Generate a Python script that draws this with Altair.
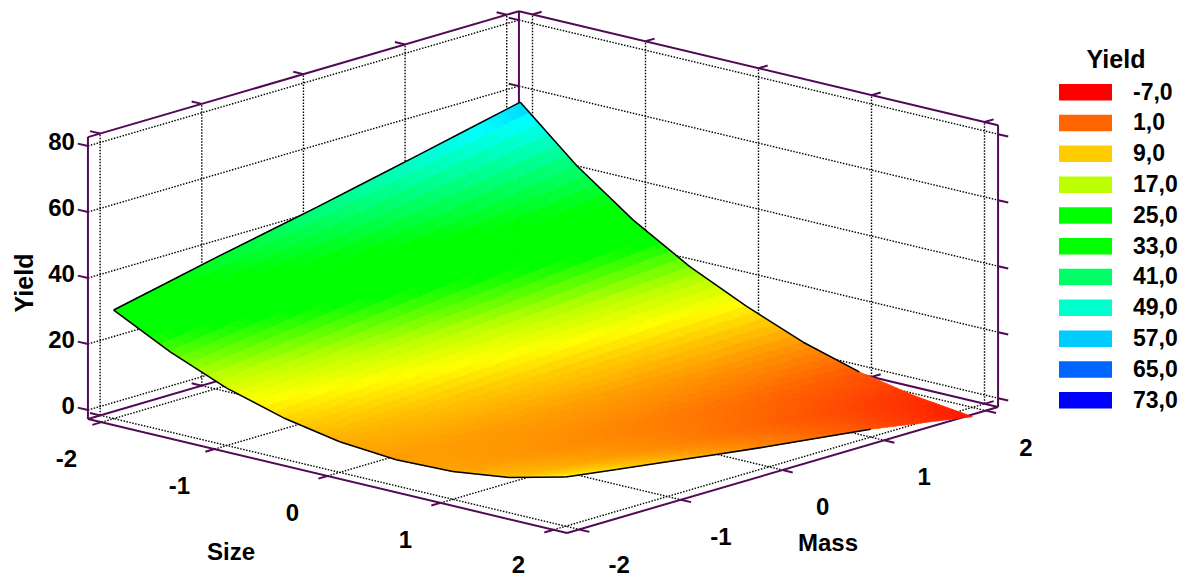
import altair as alt

# Yield at Size (rows) / Mass (columns) = -2, -1.5, ... 2
S_GRID = [-2, -1.5, -1, -0.5, 0, 0.5, 1, 1.5, 2]
M_GRID = [-2, -1.5, -1, -0.5, 0, 0.5, 1, 1.5, 2]
Y_S_M2 = [30.2, 33.6, 37.0, 40.2, 43.4, 46.8, 50.2, 53.7, 57.2]
Y_S_M15 = [21.6, 24.2, 26.7, 29.3, 31.8, 34.4, 36.9, 39.5, 42.0]
Y_S_M1 = [14.7, 16.6, 18.4, 20.3, 22.2, 24.0, 25.9, 27.7, 29.6]
Y_S_M05 = [9.8, 11.0, 12.3, 13.5, 14.7, 15.9, 17.2, 18.4, 19.6]
Y_S_0 = [6.6, 7.2, 7.9, 8.5, 9.2, 9.8, 10.4, 11.1, 11.7]
Y_S_P05 = [5.2, 5.2, 5.1, 5.1, 5.1, 5.0, 5.0, 4.9, 4.9]
Y_S_P1 = [5.7, 5.0, 4.2, 3.5, 2.8, 2.1, 1.3, 0.6, -0.1]
Y_S_P15 = [8.0, 6.6, 5.2, 3.7, 2.3, 0.9, -0.6, -2.0, -3.4]
Y_S_P2 = [12.2, 10.0, 7.8, 5.6, 3.5, 1.6, -0.3, -2.9, -5.5]
YIELD = [Y_S_M2, Y_S_M15, Y_S_M1, Y_S_M05, Y_S_0, Y_S_P05, Y_S_P1, Y_S_P15, Y_S_P2]

LEVELS = [-7, 1, 9, 17, 25, 33, 41, 49, 57, 65, 73]
LEVEL_LABELS = ["-7,0", "1,0", "9,0", "17,0", "25,0", "33,0", "41,0", "49,0", "57,0", "65,0", "73,0"]
COLORS = ["#ff0000", "#ff6600", "#ffcc00", "#bbff00", "#00ff00", "#00ff00",
          "#00ff66", "#00ffcc", "#00ccff", "#0066ff", "#0000ff"]
S_TICKS = [-2, -1, 0, 1, 2]
M_TICKS = [-2, -1, 0, 1, 2]
Z_TICKS = [0, 20, 40, 60, 80]
PURPLE = "#520a56"
FONT = "Liberation Sans"
BOX = 2.12
ZMIN, ZMAX = -2.7, 82.7
LABEL_FLOOR = 565.5


# Fixed oblique view of the 3-D box
def P(s, m, z):
    return (543 + 113 * s + 101.65 * m, 413 + 26.9 * s - 29.7 * m - 3.3 * (z - ZMIN))


xs = alt.Scale(domain=[8, 1178], nice=False, zero=False)
ys = alt.Scale(domain=[569, 8], nice=False, zero=False)
X = alt.X("x:Q", scale=xs, axis=None)
Y = alt.Y("y:Q", scale=ys, axis=None)


def seg(a, b):
    return {"x": a[0], "y": a[1], "x2": b[0], "y2": b[1]}


def rules(rows, color, width, dash=None):
    kw = {"color": color, "strokeWidth": width}
    if dash:
        kw["strokeDash"] = dash
    return alt.Chart(alt.Data(values=rows)).mark_rule(**kw).encode(X, Y, x2="x2:Q", y2="y2:Q")


# dotted grid on the two back walls and on the floor
grid = []
for m in M_TICKS:
    grid.append(seg(P(-BOX, m, ZMIN), P(-BOX, m, ZMAX)))
    grid.append(seg(P(-BOX, m, ZMIN), P(BOX, m, ZMIN)))
for s in S_TICKS:
    grid.append(seg(P(s, BOX, ZMIN), P(s, BOX, ZMAX)))
    grid.append(seg(P(s, -BOX, ZMIN), P(s, BOX, ZMIN)))
for z in Z_TICKS:
    grid.append(seg(P(-BOX, -BOX, z), P(-BOX, BOX, z)))
    grid.append(seg(P(-BOX, BOX, z), P(BOX, BOX, z)))

# purple frame and ticks
box = [
    seg(P(-BOX, -BOX, ZMIN), P(-BOX, -BOX, ZMAX)),
    seg(P(BOX, BOX, ZMIN), P(BOX, BOX, ZMAX)),
    seg(P(-BOX, BOX, ZMIN), P(-BOX, BOX, ZMAX)),
    seg(P(-BOX, -BOX, ZMAX), P(-BOX, BOX, ZMAX)),
    seg(P(-BOX, BOX, ZMAX), P(BOX, BOX, ZMAX)),
    seg(P(-BOX, -BOX, ZMIN), P(BOX, -BOX, ZMIN)),
    seg(P(BOX, -BOX, ZMIN), P(BOX, BOX, ZMIN)),
    seg(P(-BOX, -BOX, ZMIN), P(-BOX, BOX, ZMIN)),
    seg(P(-BOX, BOX, ZMIN), P(BOX, BOX, ZMIN)),
]
TL = 0.09
for s in S_TICKS:
    box.append(seg(P(s, -BOX, ZMIN), P(s, -BOX - TL, ZMIN)))
    box.append(seg(P(s, BOX, ZMIN), P(s, BOX + TL, ZMIN)))
    box.append(seg(P(s, BOX, ZMAX), P(s, BOX + TL, ZMAX)))
for m in M_TICKS:
    box.append(seg(P(BOX, m, ZMIN), P(BOX + TL, m, ZMIN)))
    box.append(seg(P(-BOX, m, ZMIN), P(-BOX - TL, m, ZMIN)))
    box.append(seg(P(-BOX, m, ZMAX), P(-BOX - TL, m, ZMAX)))
for z in Z_TICKS:
    box.append(seg(P(-BOX, -BOX, z), P(-BOX - TL, -BOX, z)))
    box.append(seg(P(-BOX, BOX, z), P(-BOX - TL, BOX, z)))
    box.append(seg(P(BOX, BOX, z), P(BOX + TL, BOX, z)))

# surface: each read cell is drawn as small flat shading facets
SUB = 6
features = []


def lerp_cell(i, j, u, v):
    a, b = YIELD[i][j], YIELD[i][j + 1]
    c, d = YIELD[i + 1][j], YIELD[i + 1][j + 1]
    return a * (1 - u) * (1 - v) + b * (1 - u) * v + c * u * (1 - v) + d * u * v


for i in range(len(S_GRID) - 1):
    ds = S_GRID[i + 1] - S_GRID[i]
    for j in range(len(M_GRID) - 1):
        dm = M_GRID[j + 1] - M_GRID[j]
        for a in range(SUB):
            for b in range(SUB):
                corners = [(a, b), (a + 1, b), (a + 1, b + 1), (a, b + 1)]
                pts, zs = [], []
                for ca, cb in corners:
                    u, v = ca / SUB, cb / SUB
                    z = lerp_cell(i, j, u, v)
                    zs.append(z)
                    pts.append(list(P(S_GRID[i] + u * ds, M_GRID[j] + v * dm, z)))
                pts.append(pts[0])
                features.append({
                    "type": "Feature",
                    "properties": {"z": sum(zs) / 4},
                    "geometry": {"type": "Polygon", "coordinates": [pts]},
                })

cscale = alt.Scale(domain=LEVELS, range=COLORS, interpolate="hsl")
surface = (
    alt.Chart(alt.Data(values=features))
    .mark_geoshape(strokeWidth=0.8)
    .encode(
        fill=alt.Fill("properties.z:Q", scale=cscale, legend=None),
        stroke=alt.Stroke("properties.z:Q", scale=cscale, legend=None),
    )
    .project(type="identity", scale=1, translate=[-8, -8])
)

# black outline, absent towards the red tip as in the reference
outline = []
n = len(S_GRID)
for k in range(n - 1):
    outline.append(seg(P(S_GRID[0], M_GRID[k], YIELD[0][k]), P(S_GRID[0], M_GRID[k + 1], YIELD[0][k + 1])))
    outline.append(seg(P(S_GRID[k], M_GRID[0], YIELD[k][0]), P(S_GRID[k + 1], M_GRID[0], YIELD[k + 1][0])))
for k in range(6):
    outline.append(seg(P(S_GRID[k], M_GRID[-1], YIELD[k][-1]), P(S_GRID[k + 1], M_GRID[-1], YIELD[k + 1][-1])))
    outline.append(seg(P(S_GRID[-1], M_GRID[k], YIELD[-1][k]), P(S_GRID[-1], M_GRID[k + 1], YIELD[-1][k + 1])))

# texts
texts = []
for z in Z_TICKS:
    p = P(-BOX, -BOX, z)
    texts.append({"x": p[0] - 13, "y": p[1] - 3, "t": str(z), "a": "right"})
for s in S_TICKS:
    p = P(s, -BOX, ZMIN)
    texts.append({"x": p[0] - 35, "y": min(p[1] + 38, LABEL_FLOOR), "t": str(s), "a": "center"})
for m in M_TICKS:
    p = P(BOX, m, ZMIN)
    texts.append({"x": p[0] + 40, "y": min(p[1] + 38, LABEL_FLOOR), "t": str(m), "a": "center"})
texts.append({"x": 231, "y": 553, "t": "Size", "a": "center"})
texts.append({"x": 828, "y": 544, "t": "Mass", "a": "center"})


def text_layer(rows, size=24, **kw):
    return alt.Chart(alt.Data(values=rows)).mark_text(
        font=FONT, fontWeight="bold", fontSize=size, color="black", baseline="middle", **kw
    ).encode(X, Y, text="t:N")


legend_rows = [{"x": 1133, "y": 92.5 + i * 30.8, "t": lab} for i, lab in enumerate(LEVEL_LABELS)]
text_layers = [text_layer([r for r in texts if r["a"] == al], align=al) for al in ("center", "right")]
text_layers.append(text_layer(legend_rows, size=23, align="left"))
text_layers.append(text_layer([{"x": 1116, "y": 60, "t": "Yield"}], size=25, align="center"))
text_layers.append(text_layer([{"x": 25, "y": 283, "t": "Yield"}], size=25, align="center", angle=270))

swatches = (
    alt.Chart(alt.Data(values=[
        {"x": 1059, "x2": 1112, "y": 84 + i * 30.8, "y2": 100.5 + i * 30.8, "lev": lev}
        for i, lev in enumerate(LEVELS)
    ]))
    .mark_rect()
    .encode(X, Y, x2="x2:Q", y2="y2:Q", fill=alt.Fill("lev:O", scale=alt.Scale(domain=LEVELS, range=COLORS), legend=None))
)

chart = alt.layer(
    rules(grid, "black", 1.4, [1.5, 1.5]),
    rules(box, PURPLE, 2),
    surface,
    rules(outline, "black", 1.5),
    swatches,
    *text_layers,
).resolve_scale(fill="independent", stroke="independent").properties(
    width=1170, height=561, padding=0
).configure_view(stroke=None)

chart.save("out.html", embed_options={"renderer": "svg", "actions": False})
